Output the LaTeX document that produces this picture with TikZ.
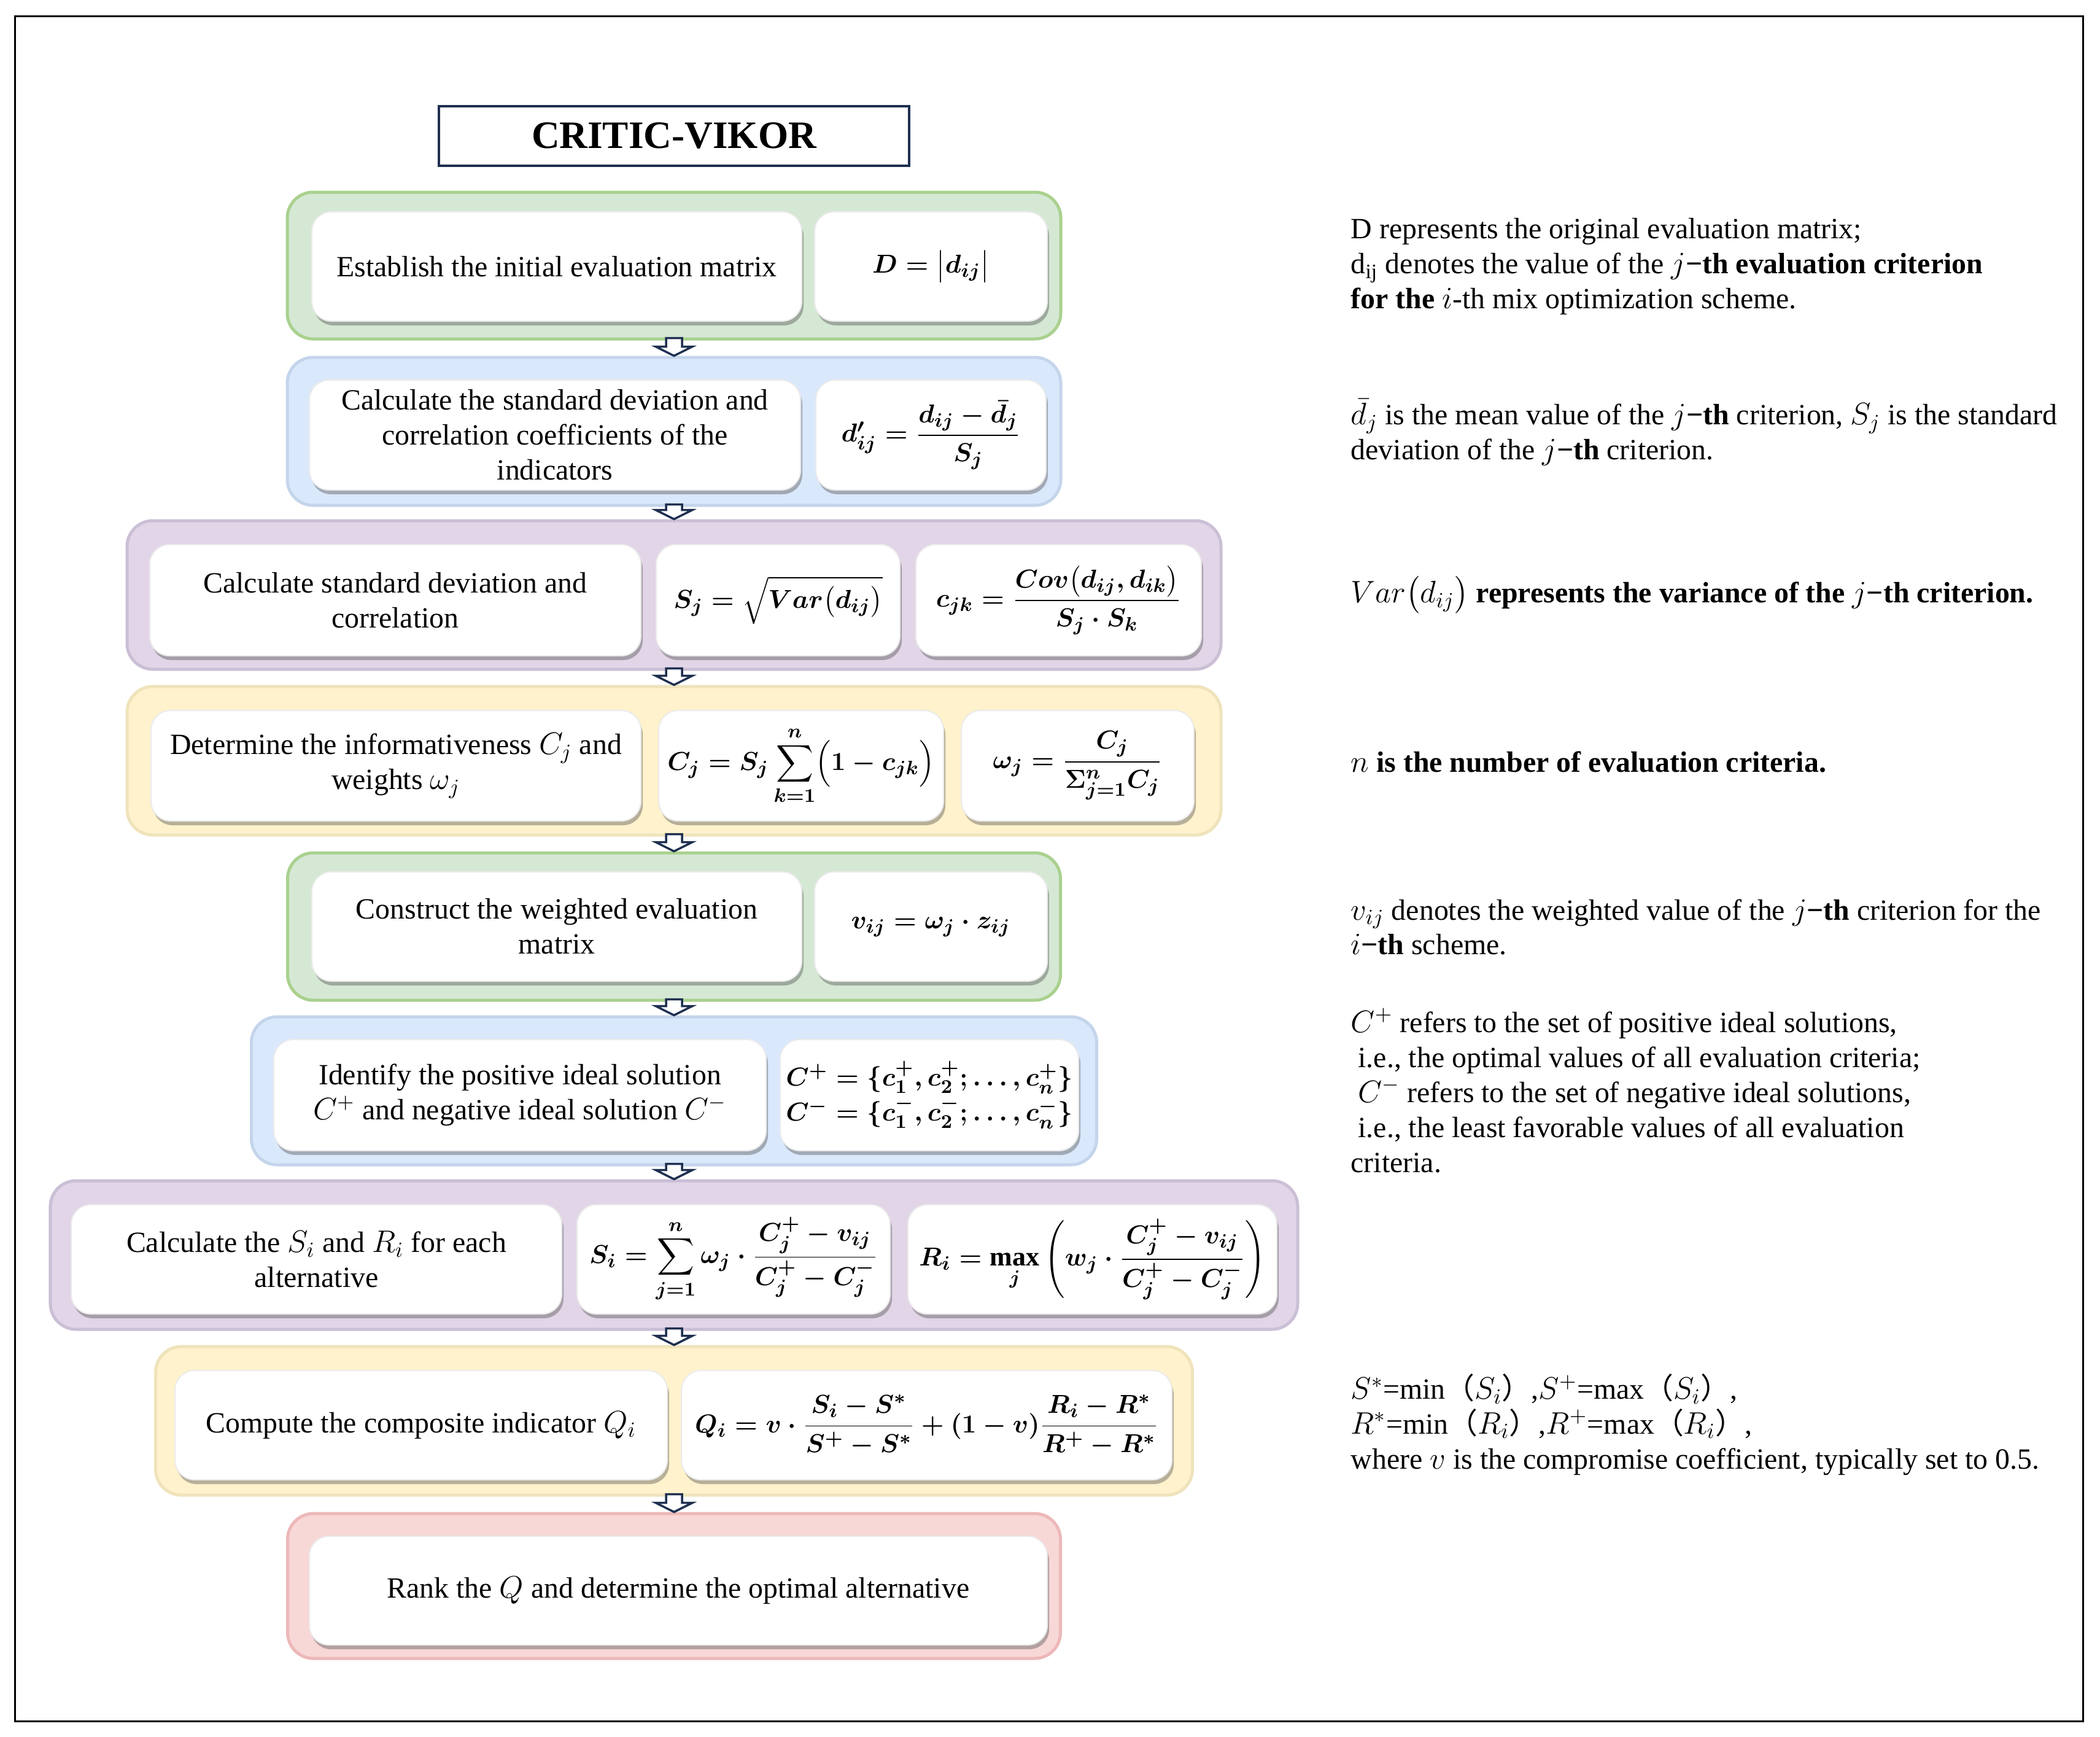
\documentclass[tikz,border=0pt]{standalone}
\usepackage{amsmath}
\usepackage{fontspec}
\setmainfont{Liberation Serif}
\newfontfamily\cjkfont{Noto Sans CJK SC}
\usetikzlibrary{calc,shadows}
\definecolor{gfill}{HTML}{D5E8D4}\definecolor{gline}{HTML}{A9D18E}
\definecolor{bfill}{HTML}{DAE8FC}\definecolor{bline}{HTML}{C4D5EB}
\definecolor{pfill}{HTML}{E1D5E7}\definecolor{pline}{HTML}{CBBFD6}
\definecolor{yfill}{HTML}{FFF2CC}\definecolor{yline}{HTML}{EFE3BB}
\definecolor{rfill}{HTML}{F8D7D7}\definecolor{rline}{HTML}{EDB8B8}
\definecolor{navy}{HTML}{1F3050}
\newcommand{\flowarr}[2]{%
  \draw[flowarrow] let \p1=(#1.south), \p2=(#2.north) in
  (\x1-0.13cm,\y1+0.04cm) -- (\x1+0.13cm,\y1+0.04cm) -- (\x1+0.13cm,\y2+0.15cm)
  -- (\x1+0.30cm,\y2+0.15cm) -- (\x1,\y2) -- (\x1-0.30cm,\y2+0.15cm)
  -- (\x1-0.13cm,\y2+0.15cm) -- cycle;}
\newcommand{\lpar}{{\cjkfont （}}
\newcommand{\rpar}{{\cjkfont ）}}
\begin{document}
\begin{tikzpicture}[
  font=\fontsize{13.6}{16.2}\selectfont,
  panel/.style={line width=0.05cm, rounded corners=0.42cm, inner sep=0pt},
  gpanel/.style={panel, draw=gline, fill=gfill},
  bpanel/.style={panel, draw=bline, fill=bfill},
  ppanel/.style={panel, draw=pline, fill=pfill},
  ypanel/.style={panel, draw=yline, fill=yfill},
  rpanel/.style={panel, draw=rline, fill=rfill},
  wbox/.style={fill=white, draw=black!8, line width=0.02cm, rounded corners=0.32cm,
    align=center, inner sep=0pt,
    drop shadow={shadow xshift=0.03cm, shadow yshift=-0.07cm, opacity=0.4, fill=black!70}},
  mbox/.style={wbox, font=\fontsize{12.5}{16.2}\selectfont\boldmath},
  titlebox/.style={draw=navy, line width=0.04cm, fill=white, inner sep=0pt,
    font=\fontsize{18}{21}\selectfont\bfseries},
  note/.style={anchor=west, align=left, inner sep=0pt},
  flowarrow/.style={draw=navy, fill=white, line width=0.035cm, line join=miter}
]
\useasboundingbox (0,0) rectangle (34.21,-28.28);
\draw[line width=0.03cm] (0.24,-0.26) rectangle (33.93,-28.03);

\node[titlebox, minimum width=7.66cm, minimum height=0.97cm] (title) at (10.98,-2.215) {CRITIC-VIKOR};

% panels
\node[gpanel, minimum width=12.60cm, minimum height=2.39cm] (p1) at (10.98,-4.325) {};
\node[bpanel, minimum width=12.60cm, minimum height=2.41cm] (p2) at (10.98,-7.025) {};
\node[ppanel, minimum width=17.82cm, minimum height=2.42cm] (p3) at (10.98,-9.69) {};
\node[ypanel, minimum width=17.82cm, minimum height=2.42cm] (p4) at (10.98,-12.39) {};
\node[gpanel, minimum width=12.59cm, minimum height=2.40cm] (p5) at (10.98,-15.09) {};
\node[bpanel, minimum width=13.77cm, minimum height=2.41cm] (p6) at (10.98,-17.765) {};
\node[ppanel, minimum width=20.32cm, minimum height=2.42cm] (p7) at (10.98,-20.44) {};
\node[ypanel, minimum width=16.89cm, minimum height=2.42cm] (p8) at (10.98,-23.14) {};
\node[rpanel, minimum width=12.59cm, minimum height=2.36cm] (p9) at (10.98,-25.83) {};

% step 1
\node[wbox, minimum width=7.98cm, minimum height=1.78cm] (b1a) at (9.07,-4.34) {Establish the initial evaluation matrix};
\node[mbox, minimum width=3.79cm, minimum height=1.78cm] (b1b) at (15.165,-4.34) {$D=\bigl|d_{ij}\bigr|$};
% step 2
\node[wbox, minimum width=8.00cm, minimum height=1.79cm] (b2a) at (9.04,-7.085) {Calculate the standard deviation and\\correlation coefficients of the\\indicators};
\node[mbox, minimum width=3.75cm, minimum height=1.79cm] (b2b) at (15.165,-7.085) {$d'_{ij}=\dfrac{d_{ij}-\bar{d}_j}{S_j}$};
% step 3
\node[wbox, minimum width=8.00cm, minimum height=1.81cm] (b3a) at (6.44,-9.775) {Calculate standard deviation and\\correlation};
\node[mbox, minimum width=3.97cm, minimum height=1.81cm] (b3b) at (12.675,-9.775) {$S_j=\sqrt{Var\bigl(d_{ij}\bigr)}$};
\node[mbox, minimum width=4.65cm, minimum height=1.81cm] (b3c) at (17.245,-9.775) {$c_{jk}=\dfrac{Cov\bigl(d_{ij},d_{ik}\bigr)}{S_j\cdot S_k}$};
% step 4
\node[wbox, minimum width=7.98cm, minimum height=1.80cm] (b4a) at (6.45,-12.47) {Determine the informativeness $C_j$ and\\weights $\omega_j$};
\node[mbox, minimum width=4.64cm, minimum height=1.80cm] (b4b) at (13.05,-12.47) {$C_j=S_j\displaystyle\sum_{k=1}^{n}\Bigl(1-c_{jk}\Bigr)$};
\node[mbox, minimum width=3.79cm, minimum height=1.80cm] (b4c) at (17.555,-12.47) {$\omega_j=\dfrac{C_j}{\Sigma_{j=1}^{n}C_j}$};
% step 5
\node[wbox, minimum width=7.98cm, minimum height=1.78cm] (b5a) at (9.07,-15.09) {Construct the weighted evaluation\\matrix};
\node[mbox, minimum width=3.79cm, minimum height=1.78cm] (b5b) at (15.165,-15.09) {$v_{ij}=\omega_j\cdot z_{ij}$};
% step 6
\node[wbox, minimum width=8.02cm, minimum height=1.81cm] (b6a) at (8.47,-17.835) {Identify the positive ideal solution\\$C^{+}$ and negative ideal solution $C^{-}$};
\node[mbox, minimum width=4.86cm, minimum height=1.81cm] (b6b) at (15.14,-17.835) {$C^{+}=\{c_1^{+},c_2^{+};\dots,c_n^{+}\}$\\$C^{-}=\{c_1^{-},c_2^{-};\dots,c_n^{-}\}$};
% step 7
\node[wbox, minimum width=7.99cm, minimum height=1.78cm] (b7a) at (5.155,-20.51) {Calculate the $S_i$ and $R_i$ for each\\alternative};
\node[mbox, minimum width=5.10cm, minimum height=1.78cm] (b7b) at (11.95,-20.51) {$S_i=\displaystyle\sum_{j=1}^{n}\omega_j\cdot\frac{C_j^{+}-v_{ij}}{C_j^{+}-C_j^{-}}$};
\node[mbox, minimum width=6.01cm, minimum height=1.78cm] (b7c) at (17.795,-20.51) {$R_i=\displaystyle\max_j\left(w_j\cdot\frac{C_j^{+}-v_{ij}}{C_j^{+}-C_j^{-}}\right)$};
% step 8
\node[wbox, minimum width=8.02cm, minimum height=1.78cm] (b8a) at (6.86,-23.21) {Compute the composite indicator $Q_i$};
\node[mbox, minimum width=7.99cm, minimum height=1.78cm] (b8b) at (15.095,-23.21) {$Q_i=v\cdot\dfrac{S_i-S^{*}}{S^{+}-S^{*}}+(1-v)\dfrac{R_i-R^{*}}{R^{+}-R^{*}}$};
% step 9
\node[wbox, minimum width=12.02cm, minimum height=1.77cm] (b9) at (11.05,-25.905) {Rank the $Q$ and determine the optimal alternative};

% arrows
\flowarr{p1}{p2}
\flowarr{p2}{p3}
\flowarr{p3}{p4}
\flowarr{p4}{p5}
\flowarr{p5}{p6}
\flowarr{p6}{p7}
\flowarr{p7}{p8}
\flowarr{p8}{p9}

% notes
\node[note] (n1) at (22.0,-4.34) {D represents the original evaluation matrix;\\
d\textsubscript{ij} denotes the value of the $j$\textbf{−th evaluation criterion}\\
\textbf{for the} $i$-th mix optimization scheme.};
\node[note] (n2) at (22.0,-7.04) {$\bar{d}_j$ is the mean value of the $j$\textbf{−th} criterion, $S_j$ is the standard\\
deviation of the $j$\textbf{−th} criterion.};
\node[note] (n3) at (22.0,-9.69) {$Var\bigl(d_{ij}\bigr)$ \textbf{represents the variance of the} $j$\textbf{−th criterion.}};
\node[note] (n4) at (22.0,-12.41) {$n$ \textbf{is the number of evaluation criteria.}};
\node[note] (n5) at (22.0,-15.10) {$v_{ij}$ denotes the weighted value of the $j$\textbf{−th} criterion for the\\
$i$\textbf{−th} scheme.};
\node[note] (n6) at (22.0,-17.76) {$C^{+}$ refers to the set of positive ideal solutions,\\
\hspace{0.25em}i.e., the optimal values of all evaluation criteria;\\
\hspace{0.25em}$C^{-}$ refers to the set of negative ideal solutions,\\
\hspace{0.25em}i.e., the least favorable values of all evaluation\\
criteria.};
\node[note] (n7) at (22.0,-23.20) {$S^{*}$=min\lpar$S_i$\rpar,$S^{+}$=max\lpar$S_i$\rpar,\\
$R^{*}$=min\lpar$R_i$\rpar,$R^{+}$=max\lpar$R_i$\rpar,\\
where $v$ is the compromise coefficient, typically set to 0.5.};
\end{tikzpicture}
\end{document}
